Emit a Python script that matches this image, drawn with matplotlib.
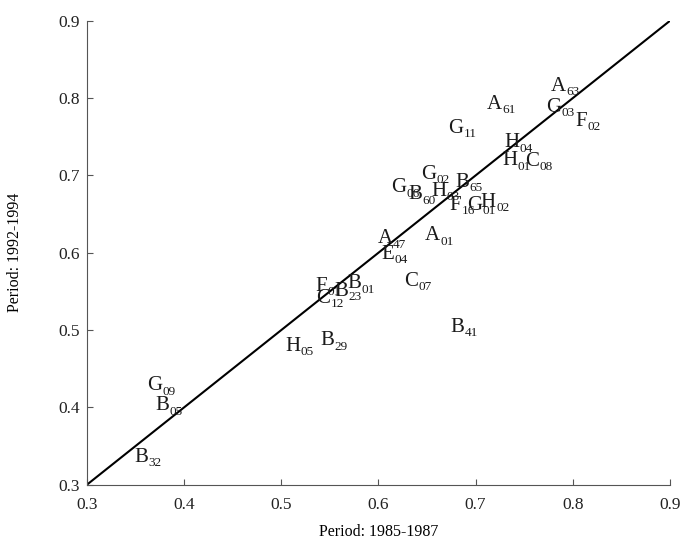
import numpy as np
import matplotlib.pyplot as plt

plt.rcParams['font.family'] = ['Liberation Serif', 'DejaVu Serif']

# region codes: letter and subscript
letters = ['A', 'G', 'F', 'A', 'G', 'H', 'H', 'C', 'G', 'B',
           'G', 'B', 'H', 'F', 'G', 'H', 'A', 'E', 'A', 'C',
           'F', 'C', 'B', 'B', 'B', 'H', 'B', 'G', 'B', 'B']
subs = ['63', '03', '02', '61', '11', '04', '01', '08', '02', '65',
        '06', '60', '03', '16', '01', '02', '47', '04', '01', '07',
        '01', '12', '23', '01', '41', '05', '29', '09', '05', '32']

# period 1985-1987
x = [0.785, 0.780, 0.809, 0.719, 0.680, 0.737, 0.735, 0.758, 0.652, 0.686,
     0.621, 0.638, 0.662, 0.679, 0.699, 0.713, 0.607, 0.610, 0.656, 0.634,
     0.541, 0.543, 0.562, 0.575, 0.681, 0.512, 0.547, 0.370, 0.378, 0.356]
# period 1992-1994
y = [0.815, 0.788, 0.770, 0.792, 0.761, 0.742, 0.719, 0.718, 0.701, 0.691,
     0.684, 0.675, 0.679, 0.661, 0.661, 0.665, 0.618, 0.598, 0.622, 0.563,
     0.557, 0.541, 0.550, 0.560, 0.504, 0.479, 0.486, 0.428, 0.402, 0.336]

fig, ax = plt.subplots(figsize=(6.83, 5.46), dpi=100)
fig.subplots_adjust(left=0.127, right=0.981, top=0.962, bottom=0.112)

ax.plot([0.3, 0.9], [0.3, 0.9], color='black', lw=1.5)

for l, s, xi, yi in zip(letters, subs, x, y):
    t = ax.text(xi, yi, l, ha='center', va='center', fontsize=15,
                color='#1a1a1a')
    ax.annotate(s, xy=(1, 0), xycoords=t, xytext=(0.3, 0.5),
                textcoords='offset points', ha='left', va='baseline',
                fontsize=9.5, color='#1a1a1a')

ax.set_xlim(0.3, 0.9)
ax.set_ylim(0.3, 0.9)
ax.set_xticks(np.arange(0.3, 0.91, 0.1))
ax.set_yticks(np.arange(0.3, 0.91, 0.1))
ax.set_xticklabels(['0.3', '0.4', '0.5', '0.6', '0.7', '0.8', '0.9'])
ax.set_yticklabels(['0.3', '0.4', '0.5', '0.6', '0.7', '0.8', '0.9'])
ax.spines['top'].set_visible(False)
ax.spines['right'].set_visible(False)
ax.spines['left'].set_color('#555555')
ax.spines['bottom'].set_color('#555555')
ax.tick_params(direction='in', labelsize=12.5, length=4, color='#555555',
               labelcolor='#222222')
ax.tick_params(axis='x', pad=9)
ax.tick_params(axis='y', pad=5)
ax.set_xlabel('Period: 1985-1987', fontsize=11.5, labelpad=8)
ax.set_ylabel('Period: 1992-1994', fontsize=11.5, labelpad=25)

fig.savefig('out.png')
